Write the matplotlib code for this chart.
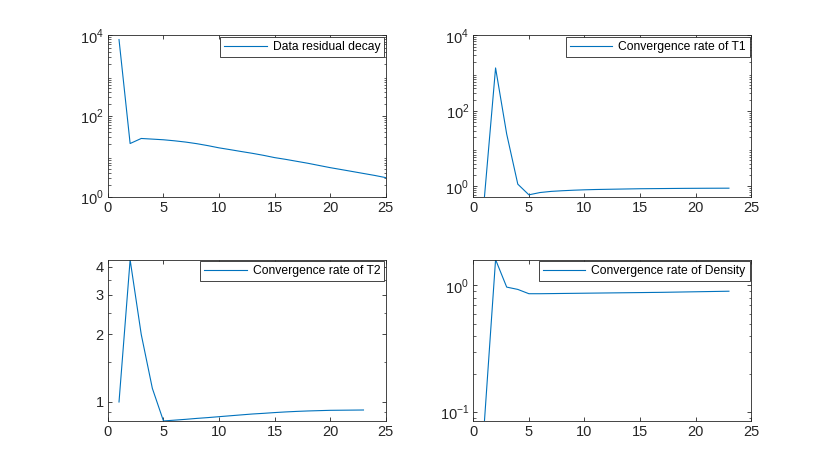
import matplotlib
matplotlib.use("Agg")
import matplotlib.pyplot as plt
from matplotlib.ticker import LogLocator, FixedLocator, NullFormatter, FixedFormatter

plt.rcParams['font.family'] = ['Liberation Sans', 'DejaVu Sans']
plt.rcParams['mathtext.fontset'] = 'custom'
plt.rcParams['mathtext.rm'] = 'Liberation Sans'

# ---- data ----
iters_residual = list(range(1, 26))
residual = [7900, 21, 28, 27, 26, 24.5, 22.8, 20.8, 18.6, 16.4, 14.8, 13.3, 12.0,
            10.7, 9.4, 8.5, 7.6, 6.8, 6.0, 5.3, 4.75, 4.25, 3.8, 3.4, 3.0]

iters_rate = list(range(1, 24))
rate_T1 = [0.53, 1380, 24.5, 1.15, 0.6, 0.69, 0.74, 0.77, 0.795, 0.815, 0.83,
           0.84, 0.85, 0.86, 0.87, 0.875, 0.88, 0.885, 0.89, 0.893, 0.896, 0.898, 0.90]
rate_T2 = [1.0, 4.3, 2.0, 1.15, 0.823, 0.83, 0.837, 0.845, 0.852, 0.86, 0.868,
           0.876, 0.884, 0.89, 0.897, 0.903, 0.908, 0.912, 0.915, 0.918, 0.919, 0.92, 0.921]
rate_D = [0.085, 1.60, 0.97, 0.93, 0.86, 0.86, 0.862, 0.864, 0.866, 0.868, 0.87,
          0.872, 0.874, 0.876, 0.878, 0.88, 0.882, 0.885, 0.888, 0.891, 0.894, 0.897, 0.90]

labels = ["Data residual decay", "Convergence rate of T1",
          "Convergence rate of T2", "Convergence rate of Density"]

line_color = '#0072BD'
axis_color = '#262626'

fig = plt.figure(figsize=(8.30, 4.73), dpi=100)
positions = [[0.13, 0.5838, 0.3347, 0.3412], [0.5703, 0.5838, 0.3347, 0.3412],
             [0.13, 0.11, 0.3347, 0.3412], [0.5703, 0.11, 0.3347, 0.3412]]
xs = [iters_residual, iters_rate, iters_rate, iters_rate]
ys = [residual, rate_T1, rate_T2, rate_D]
ylims = [(1, 1e4), (0.53, 1e4), (0.823, 4.31), (0.085, 1.60)]

for i in range(4):
    ax = fig.add_axes(positions[i])
    ax.plot(xs[i], ys[i], color=line_color, lw=0.8, label=labels[i])
    ax.set_yscale('log')
    ax.set_xlim(0, 25)
    ax.set_ylim(*ylims[i])
    ax.set_xticks([0, 5, 10, 15, 20, 25])
    if i == 0 or i == 1:
        ax.yaxis.set_major_locator(FixedLocator([1, 100, 1e4]))
        ax.yaxis.set_major_formatter(FixedFormatter([r'$10^0$', r'$10^2$', r'$10^4$']))
    elif i == 2:
        ax.yaxis.set_major_locator(FixedLocator([1, 2, 3, 4]))
        ax.yaxis.set_major_formatter(FixedFormatter(['1', '2', '3', '4']))
        ax.yaxis.set_minor_locator(FixedLocator([0.9, 1.5, 2.5, 3.5]))
    else:
        ax.yaxis.set_major_locator(FixedLocator([0.1, 1]))
        ax.yaxis.set_major_formatter(FixedFormatter([r'$10^{-1}$', r'$10^0$']))
    if i != 2:
        ax.yaxis.set_minor_locator(LogLocator(base=10, subs=range(2, 10), numticks=20))
    ax.yaxis.set_minor_formatter(NullFormatter())
    ax.tick_params(which='both', direction='in', top=True, right=True,
                   color=axis_color, labelcolor=axis_color, labelsize=10.5, pad=3)
    ax.tick_params(which='major', length=3, width=0.6)
    ax.tick_params(which='minor', length=1.8, width=0.5)
    for s in ax.spines.values():
        s.set_color(axis_color)
        s.set_linewidth(0.6)
    leg = ax.legend(loc='upper right', fontsize=8.7, handlelength=3.5,
                    handletextpad=0.5, borderaxespad=0.1, borderpad=0.35,
                    fancybox=False, framealpha=1)
    leg.get_frame().set_edgecolor(axis_color)
    leg.get_frame().set_linewidth(0.6)

fig.savefig('out.png', dpi=100)
